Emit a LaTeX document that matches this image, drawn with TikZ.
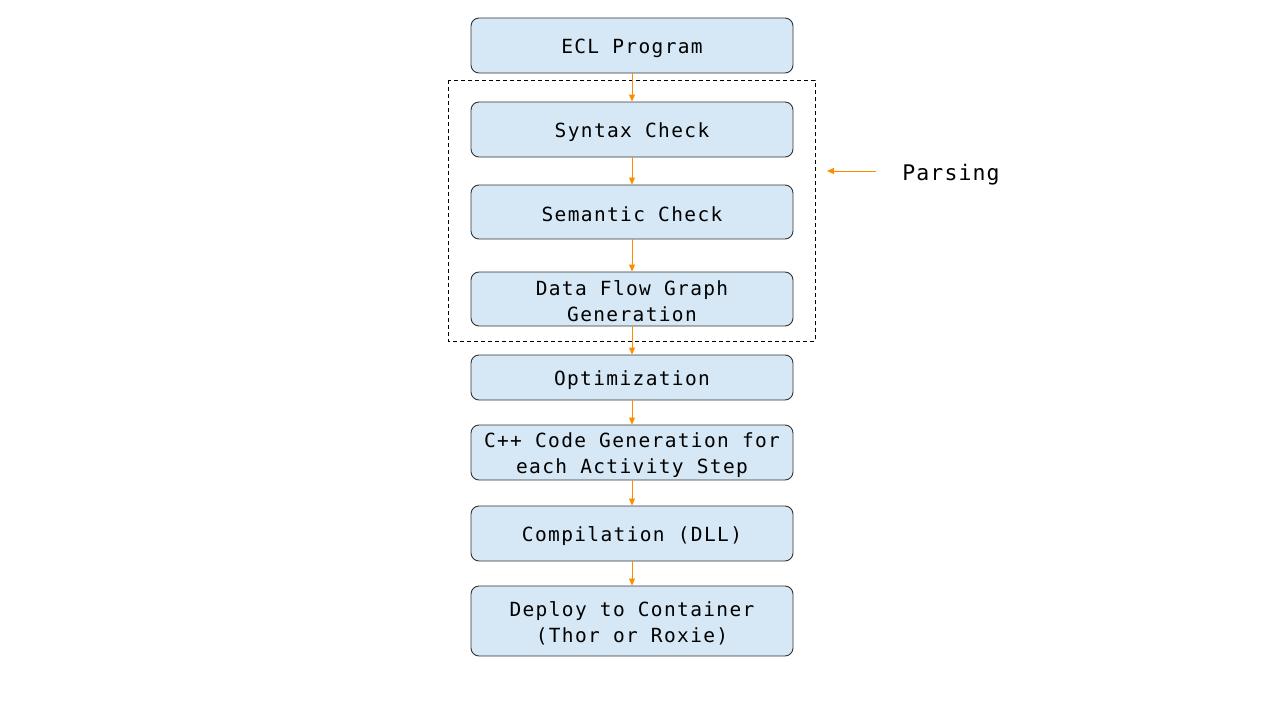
\documentclass[tikz,border=0pt]{standalone}
\usepackage{fontspec}
\setmonofont[LetterSpace=7]{DejaVu Sans Mono}
\newfontfamily\labelfont[LetterSpace=5]{DejaVu Sans Mono}
\usetikzlibrary{arrows.meta}
\definecolor{boxfill}{HTML}{D6E8F5}
\definecolor{boxdraw}{HTML}{333333}
\definecolor{arr}{HTML}{FF8C00}
\tikzset{
  stepbox/.style={draw=boxdraw, fill=boxfill, rounded corners=8pt, line width=0.9pt,
    minimum width=322pt, inner sep=0pt},
  txt/.style={align=center, inner sep=0pt, yshift=-2.5pt,
    font=\ttfamily\fontsize{19.5}{26}\selectfont},
  flow/.style={draw=arr, line width=1pt, -{Triangle[length=7pt,width=6pt]}},
}
\begin{document}
\begin{tikzpicture}[x=1pt,y=-1pt]
\useasboundingbox (0,0) rectangle (1280,720);
\node[stepbox, minimum height=55pt, label={[txt]center:ECL Program}] (ecl) at (632,45.5) {};
\node[stepbox, minimum height=55pt, label={[txt]center:Syntax Check}] (syn) at (632,129.5) {};
\node[stepbox, minimum height=54pt, label={[txt]center:Semantic Check}] (sem) at (632,212) {};
\node[stepbox, minimum height=54pt, label={[txt]center:Data Flow Graph\\Generation}] (dfg) at (632,299) {};
\node[stepbox, minimum height=45pt, label={[txt]center:Optimization}] (opt) at (632,377.5) {};
\node[stepbox, minimum height=55pt, label={[txt]center:C++ Code Generation for\\each Activity Step}] (cpp) at (632,452.5) {};
\node[stepbox, minimum height=55pt, label={[txt]center:Compilation (DLL)}] (cmp) at (632,533.5) {};
\node[stepbox, minimum height=70pt, label={[txt]center:Deploy to Container\\(Thor or Roxie)}] (dep) at (632,621) {};
\draw[dashed, line width=0.9pt, dash pattern=on 4pt off 3pt] (448,80) rectangle (815,341);
\coordinate (parsebox) at (827,171);
\node[font=\labelfont\fontsize{21.5}{26}\selectfont, anchor=center] (parse) at (951,175) {Parsing};
\draw[flow] (876,171) -- (parsebox);
\draw[flow] (ecl) -- (syn);
\draw[flow] (syn) -- (sem);
\draw[flow] (sem) -- (dfg);
\draw[flow] (dfg) -- (opt);
\draw[flow] (opt) -- (cpp);
\draw[flow] (cpp) -- (cmp);
\draw[flow] (cmp) -- (dep);
\end{tikzpicture}
\end{document}
